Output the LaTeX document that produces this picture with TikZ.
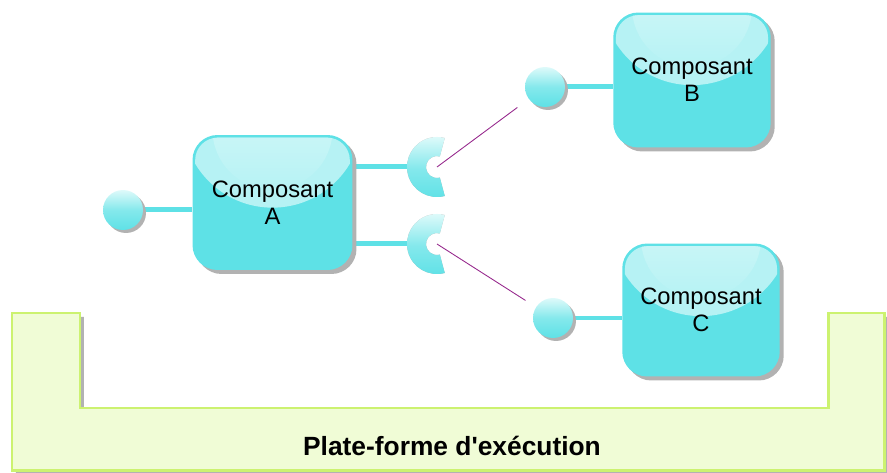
\documentclass[tikz,border=0pt]{standalone}
\usepackage{fontspec}
\setmainfont{Liberation Sans}
\usetikzlibrary{
    positioning,
    calc,
    shadows,
    backgrounds
}
\definecolor{boxcyan}{RGB}{94,225,230}
\definecolor{glossedge}{RGB}{182,242,244}
\definecolor{glosstop}{RGB}{222,250,250}
\definecolor{wirepurple}{RGB}{150,40,140}
\definecolor{baseborder}{RGB}{204,242,112}
\definecolor{basefill}{RGB}{240,252,214}
\definecolor{shadowgray}{RGB}{178,178,178}
\tikzset{
    comp/.style={
        rounded corners=0.5cm, minimum width=3.2cm, minimum height=2.7cm,
        fill=boxcyan,
        drop shadow={shadow xshift=0.08cm, shadow yshift=-0.08cm,
                     fill=shadowgray, opacity=1},
    },
    complabel/.style={align=center, font=\fontsize{13.5}{15.3}\selectfont},
    gloss/.style={top color=glosstop, bottom color=glossedge},
    ball/.style={
        circle, minimum size=0.8cm, inner sep=0pt,
        top color=glosstop, bottom color=boxcyan,
        middle color=boxcyan!70!glosstop,
        drop shadow={shadow xshift=0.06cm, shadow yshift=-0.06cm,
                     fill=shadowgray, opacity=1},
    },
    stem/.style={boxcyan, line width=0.1cm},
    wire/.style={wirepurple, line width=0.5pt},
    base/.style={draw=baseborder, fill=basefill, line width=0.06cm,
        drop shadow={shadow xshift=0.08cm, shadow yshift=-0.08cm,
                     fill=shadowgray, opacity=1}},
}

\begin{document}
\begin{tikzpicture}[x=0.02cm, y=-0.02cm]
    \useasboundingbox (0,0) rectangle (887,473);

    %% Platform
        \draw[base] (12,313) -- (80,313) -- (80,408) -- (828,408)
            -- (828,313) -- (884,313) -- (884,470) -- (12,470) -- cycle;
        \node[font=\bfseries\fontsize{15}{18}\selectfont] (baselabel)
            at (452,446) {Plate-forme d\textquotesingle exécution};

    %% Components
        \node[comp] (compA) at (272.5,202.5) {};
        \node[comp, minimum width=3.15cm] (compB) at (692,80) {};
        \node[comp, minimum width=3.15cm, minimum height=2.66cm]
              (compC) at (701,310) {};
        \foreach \c in {compA, compB, compC} {
            \begin{scope}
                \clip[rounded corners=0.45cm] ($(\c.north west)+(3,3)$)
                    rectangle ($(\c.south east)+(-3,-3)$);
                \fill[glossedge] ($(\c.north)+(0,-17)$) circle [radius=90];
                \shade[gloss] ($(\c.north)+(0,-5)$) circle [radius=60];
            \end{scope}
        }
        \node[complabel] (labelA) at (compA) {Composant\\A};
        \node[complabel] (labelB) at (compB) {Composant\\B};
        \node[complabel] (labelC) at (compC) {Composant\\C};

    %% Provided interfaces
        \node[ball] (ballA) at (123,210) {};
        \node[ball] (ballB) at (545,87) {};
        \node[ball] (ballC) at (553,318) {};

    %% Required interfaces
        \coordinate (sockB) at (437,167);
        \coordinate (sockC) at (437,244);
        \foreach \s in {sockB, sockC} {
            \fill[shadowgray, shift={(3,3)}]
                ($(\s)+(75:30)$) arc[start angle=75, end angle=285, radius=30]
                -- ($(\s)+(285:11)$) arc[start angle=285, end angle=75, radius=11]
                -- cycle;
            \shade[top color=glosstop, bottom color=boxcyan,
                   middle color=boxcyan!70!glosstop]
                ($(\s)+(75:30)$) arc[start angle=75, end angle=285, radius=30]
                -- ($(\s)+(285:11)$) arc[start angle=285, end angle=75, radius=11]
                -- cycle;
        }

    %% Stems
    \begin{scope}[on background layer]
        \draw[stem] (ballA) -- (ballA -| compA.west);
        \draw[stem] (ballB) -- (ballB -| compB.west);
        \draw[stem] (ballC) -- (ballC -| compC.west);
        \draw[stem] (compA.east |- sockB) -- ($(sockB)+(-29,0)$);
        \draw[stem] (compA.east |- sockC) -- ($(sockC)+(-29,0)$);
    \end{scope}

    %% Assembly wires
        \draw[wire, shorten >=8pt] (sockB) -- (ballB);
        \draw[wire, shorten >=7pt] (sockC) -- (ballC);
\end{tikzpicture}
\end{document}
